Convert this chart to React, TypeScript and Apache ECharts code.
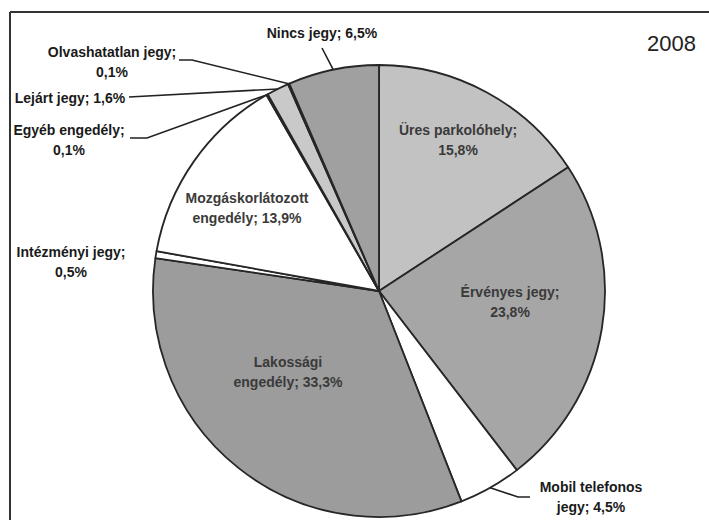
import React, { useEffect, useRef } from "react";
import * as echarts from "echarts";

// Parking check results, 2008 (share of all checked vehicles, %)
const categories = [
  "Üres parkolóhely",
  "Érvényes jegy",
  "Mobil telefonos jegy",
  "Lakossági engedély",
  "Intézményi jegy",
  "Mozgáskorlátozott engedély",
  "Egyéb engedély",
  "Lejárt jegy",
  "Olvashatatlan jegy",
  "Nincs jegy",
];
const shares = [15.8, 23.8, 4.5, 33.3, 0.5, 13.9, 0.1, 1.6, 0.1, 6.5];
const sliceColors = [
  "#c2c2c2",
  "#a6a6a6",
  "#ffffff",
  "#9c9c9c",
  "#ffffff",
  "#ffffff",
  "#ffffff",
  "#c9c9c9",
  "#1e1e1e",
  "#a0a0a0",
];
// how each label wraps: after the semicolon, inside the name, or not at all
const labelWrap = ["semi", "semi", "name", "name", "semi", "name", "semi", "none", "semi", "none"];
const insideLabels = [0, 1, 3, 5];
const yearText = "2008";

const fmtPct = (v: number) => v.toFixed(1).replace(".", ",") + "%";

const labelText = (name: string, v: number, wrap: string) => {
  if (wrap === "semi") return `${name};\n${fmtPct(v)}`;
  if (wrap === "name") {
    const i = name.lastIndexOf(" ");
    return `${name.slice(0, i)}\n${name.slice(i + 1)}; ${fmtPct(v)}`;
  }
  return `${name}; ${fmtPct(v)}`;
};

// label anchor points and leader-line bends, keyed by data index
const labelPlacement: Record<number, { x: number; y: number; bend?: number[][] }> = {
  0: { x: 458, y: 140 },
  1: { x: 510, y: 302 },
  2: { x: 591, y: 497, bend: [[518, 497], [530, 497]] },
  3: { x: 288, y: 372 },
  4: { x: 71, y: 262 },
  5: { x: 247, y: 208 },
  6: { x: 69, y: 140, bend: [[147, 138], [130, 138]] },
  7: { x: 70, y: 98, bend: [[129, 97]] },
  8: { x: 112, y: 62, bend: [[192, 60], [179, 60]] },
  9: { x: 322, y: 33, bend: [[322, 48]] },
};

export default function App() {
  const ref = useRef<HTMLDivElement>(null);

  useEffect(() => {
    if (!ref.current) return;
    const chart = echarts.init(ref.current, null, { renderer: "svg" });

    const data = categories.map((name, i) => {
      const inside = insideLabels.includes(i);
      return {
        name,
        value: shares[i],
        itemStyle: { color: sliceColors[i] },
        label: {
          position: inside ? "inside" : "outside",
          color: inside ? "#3a3a3a" : "#1a1a1a",
          formatter: labelText(name, shares[i], labelWrap[i]),
        },
        labelLine: { show: !inside && i !== 4 },
      };
    });

    chart.setOption({
      animation: false,
      backgroundColor: "#ffffff",
      title: {
        text: yearText,
        right: 8,
        top: 27,
        textStyle: {
          fontFamily: "Liberation Sans",
          fontSize: 22,
          fontWeight: "normal",
          color: "#222",
        },
      },
      graphic: [
        {
          type: "line",
          shape: { x1: 10, y1: 12, x2: 709, y2: 12 },
          style: { stroke: "#333", lineWidth: 2 },
        },
        {
          type: "line",
          shape: { x1: 10, y1: 12, x2: 10, y2: 520 },
          style: { stroke: "#333", lineWidth: 2 },
        },
      ],
      series: [
        {
          type: "pie",
          center: [379, 291],
          radius: 226,
          startAngle: 90,
          clockwise: true,
          avoidLabelOverlap: false,
          minAngle: 0,
          itemStyle: { borderColor: "#262626", borderWidth: 1.8 },
          label: {
            fontFamily: "Liberation Sans",
            fontSize: 14,
            fontWeight: "bold",
            lineHeight: 20,
            align: "center",
          },
          labelLine: {
            lineStyle: { color: "#222", width: 1.6 },
          },
          labelLayout: (params: any) => {
            const p = labelPlacement[params.dataIndex];
            if (!p) return {};
            const out: any = { x: p.x, y: p.y, align: "center", verticalAlign: "middle" };
            if (p.bend && params.labelLinePoints && params.labelLinePoints[0]) {
              out.labelLinePoints = [params.labelLinePoints[0], ...p.bend];
            }
            return out;
          },
          emphasis: { disabled: true },
          data,
        },
      ],
    });

    return () => chart.dispose();
  }, []);

  return (
    <div
      ref={ref}
      style={{ position: "fixed", left: 0, top: 0, width: 709, height: 520 }}
    />
  );
}
